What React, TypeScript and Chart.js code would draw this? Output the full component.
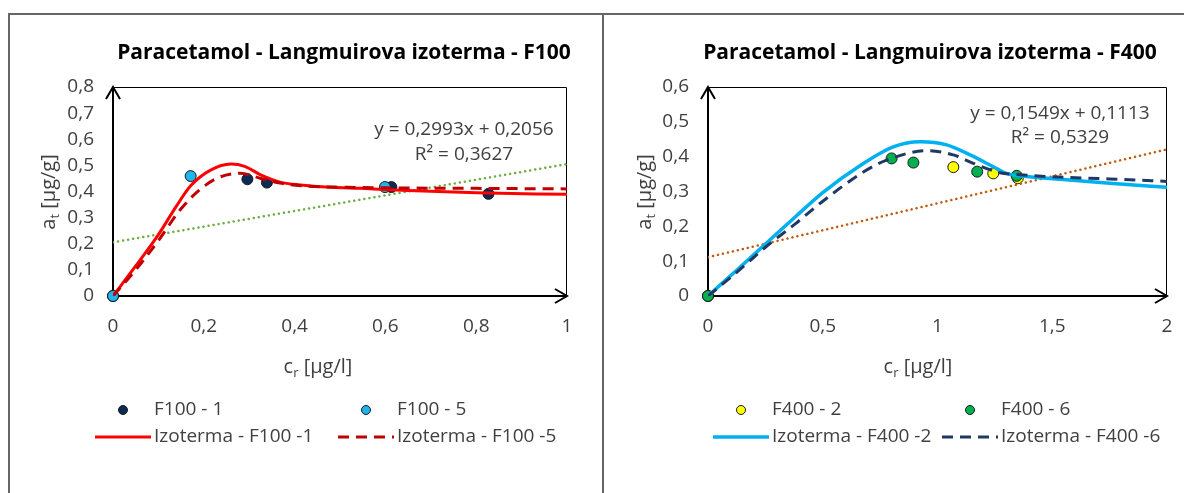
import React, { useEffect, useRef } from "react";
import { Chart, registerables } from "chart.js";

Chart.register(...registerables);

const FONT = '"Open Sans", "DejaVu Sans", sans-serif';
const TEXT = "#404040";

// ---------- F100 data ----------
const f100_1_x = [0, 0.296, 0.339, 0.613, 0.827];
const f100_1_y = [0, 0.447, 0.434, 0.417, 0.391];
const f100_5_x = [0, 0.171, 0.599];
const f100_5_y = [0, 0.459, 0.417];
const izo100_1_x = [0, 0.05, 0.1, 0.14, 0.171, 0.214, 0.26, 0.29, 0.324, 0.368, 0.412, 0.48, 0.544, 0.65, 0.8, 1.0];
const izo100_1_y = [0, 0.115, 0.235, 0.345, 0.422, 0.481, 0.505, 0.496, 0.465, 0.436, 0.425, 0.416, 0.412, 0.404, 0.395, 0.389];
const izo100_5_x = [0, 0.05, 0.1, 0.148, 0.19, 0.228, 0.28, 0.324, 0.368, 0.42, 0.515, 0.6, 0.8, 1.0];
const izo100_5_y = [0, 0.1, 0.212, 0.33, 0.405, 0.45, 0.47, 0.451, 0.432, 0.421, 0.416, 0.414, 0.412, 0.41];
const trend100_x = [0, 1];
const trend100_y = [0.2056, 0.5049];
const f100Equation = ["y = 0,2993x + 0,2056", "R² = 0,3627"];
const f100XTicks = { min: 0, max: 1, step: 0.2 };
const f100YTicks = { min: 0, max: 0.8, step: 0.1 };

// ---------- F400 data ----------
const f400_2_x = [0, 1.069, 1.243, 1.35];
const f400_2_y = [0, 0.37, 0.352, 0.338];
const f400_6_x = [0, 0.8, 0.895, 1.173, 1.345];
const f400_6_y = [0, 0.395, 0.383, 0.357, 0.345];
const izo400_2_x = [0, 0.125, 0.255, 0.38, 0.5, 0.662, 0.807, 0.924, 1.04, 1.142, 1.243, 1.3, 1.389, 1.534, 1.75, 2.0];
const izo400_2_y = [0, 0.074, 0.152, 0.227, 0.297, 0.374, 0.428, 0.443, 0.434, 0.405, 0.371, 0.352, 0.343, 0.335, 0.324, 0.312];
const izo400_6_x = [0, 0.125, 0.25, 0.38, 0.5, 0.677, 0.778, 0.953, 1.069, 1.156, 1.272, 1.345, 1.476, 1.75, 2.0];
const izo400_6_y = [0, 0.068, 0.14, 0.207, 0.272, 0.356, 0.39, 0.417, 0.405, 0.381, 0.354, 0.349, 0.343, 0.336, 0.329];
const trend400_x = [0, 2];
const trend400_y = [0.1113, 0.4211];
const f400Equation = ["y = 0,1549x + 0,1113", "R² = 0,5329"];
const f400XTicks = { min: 0, max: 2, step: 0.5 };
const f400YTicks = { min: 0, max: 0.6, step: 0.1 };

const zip = (xs: number[], ys: number[]) => xs.map((x, i) => ({ x, y: ys[i] }));
const fmt = (v: number) => String(Number(v.toFixed(3))).replace(".", ",");

type LegendItem = { label: string; kind: "point" | "line"; color: string; border?: string; dash?: number[]; width?: number };

type Layout = {
  width: number;
  height: number;
  padLeft: number;
  padRight: number;
  title: string;
  titleX: number;
  titleY: number;
  eq: string[];
  eqX: number;
  eqY: number[];
  xTitleX: number;
  xTitleY: number;
  yTitleX: number;
  yTitleY: number;
  legendCols: number[];
  legendRows: number[];
};

function drawSubText(ctx: CanvasRenderingContext2D, base: string, sub: string, rest: string, cx: number, y: number, size: number) {
  const big = `${size}px ${FONT}`;
  const small = `${Math.round(size * 0.65)}px ${FONT}`;
  ctx.font = big;
  const w1 = ctx.measureText(base).width;
  const w3 = ctx.measureText(rest).width;
  ctx.font = small;
  const w2 = ctx.measureText(sub).width;
  let x = cx - (w1 + w2 + w3) / 2;
  ctx.textAlign = "left";
  ctx.textBaseline = "alphabetic";
  ctx.font = big;
  ctx.fillText(base, x, y);
  x += w1;
  ctx.font = small;
  ctx.fillText(sub, x, y + size * 0.22);
  x += w2;
  ctx.font = big;
  ctx.fillText(rest, x, y);
}

function makePlugin(layout: Layout, legend: LegendItem[], xSub: [string, string, string], ySub: [string, string, string]) {
  return {
    id: "decor",
    beforeDatasetsDraw(chart: any) {
      const { ctx, chartArea: a } = chart;
      ctx.save();
      ctx.strokeStyle = "#000";
      ctx.lineWidth = 1;
      ctx.beginPath();
      ctx.moveTo(a.left, a.top + 0.5);
      ctx.lineTo(a.right - 0.5, a.top + 0.5);
      ctx.lineTo(a.right - 0.5, a.bottom);
      ctx.stroke();
      ctx.lineWidth = 2;
      ctx.beginPath();
      ctx.moveTo(a.left, a.bottom);
      ctx.lineTo(a.left, a.top);
      ctx.moveTo(a.left, a.bottom);
      ctx.lineTo(a.right, a.bottom);
      ctx.stroke();
      ctx.beginPath();
      ctx.moveTo(a.left - 7, a.top + 12);
      ctx.lineTo(a.left, a.top);
      ctx.lineTo(a.left + 7, a.top + 12);
      ctx.moveTo(a.right - 12, a.bottom - 7);
      ctx.lineTo(a.right, a.bottom);
      ctx.lineTo(a.right - 12, a.bottom + 7);
      ctx.stroke();
      ctx.restore();
    },
    afterDraw(chart: any) {
      const { ctx } = chart;
      ctx.save();
      ctx.fillStyle = "#000";
      ctx.font = `bold 21px ${FONT}`;
      ctx.textAlign = "center";
      ctx.textBaseline = "alphabetic";
      ctx.fillText(layout.title, layout.titleX, layout.titleY);
      ctx.fillStyle = TEXT;
      ctx.font = `19px ${FONT}`;
      layout.eq.forEach((t, i) => ctx.fillText(t, layout.eqX, layout.eqY[i]));
      drawSubText(ctx, xSub[0], xSub[1], xSub[2], layout.xTitleX, layout.xTitleY, 20);
      ctx.save();
      ctx.translate(layout.yTitleX, layout.yTitleY);
      ctx.rotate(-Math.PI / 2);
      drawSubText(ctx, ySub[0], ySub[1], ySub[2], 0, 7, 20);
      ctx.restore();
      legend.forEach((it, i) => {
        const col = layout.legendCols[i % 2];
        const row = layout.legendRows[Math.floor(i / 2)];
        ctx.save();
        if (it.kind === "point") {
          ctx.beginPath();
          ctx.arc(col + 28, row, 4.5, 0, Math.PI * 2);
          ctx.fillStyle = it.color;
          ctx.fill();
          ctx.lineWidth = 1;
          ctx.strokeStyle = it.border || "#1a1a1a";
          ctx.stroke();
        } else {
          ctx.beginPath();
          ctx.setLineDash(it.dash || []);
          ctx.lineWidth = it.width || 3;
          ctx.strokeStyle = it.color;
          ctx.moveTo(col, row);
          ctx.lineTo(col + 56, row);
          ctx.stroke();
        }
        ctx.restore();
        ctx.fillStyle = TEXT;
        ctx.font = `19px ${FONT}`;
        ctx.textAlign = "left";
        ctx.textBaseline = "middle";
        ctx.fillText(it.label, col + 59, row);
      });
      ctx.restore();
    },
  };
}

function baseOptions(layout: Layout, xt: { min: number; max: number; step: number }, yt: { min: number; max: number; step: number }) {
  return {
    responsive: false,
    animation: false as const,
    layout: { padding: { left: layout.padLeft, right: layout.padRight, top: 79, bottom: 157 } },
    plugins: { legend: { display: false }, tooltip: { enabled: false }, title: { display: false } },
    scales: {
      x: {
        type: "linear" as const,
        min: xt.min,
        max: xt.max,
        grid: { display: false, drawTicks: false },
        border: { display: false },
        ticks: { stepSize: xt.step, color: TEXT, font: { family: FONT, size: 19 }, padding: 19, callback: (v: any) => fmt(Number(v)) },
        afterFit: (s: any) => {
          s.height = 40;
          s.paddingLeft = 0;
          s.paddingRight = 0;
        },
      },
      y: {
        type: "linear" as const,
        min: yt.min,
        max: yt.max,
        grid: { display: false, drawTicks: false },
        border: { display: false },
        ticks: { stepSize: yt.step, color: TEXT, font: { family: FONT, size: 19 }, padding: 19, callback: (v: any) => fmt(Number(v)) },
        afterFit: (s: any) => {
          s.width = 60;
        },
      },
    },
  };
}

function pointDs(label: string, xs: number[], ys: number[], color: string, order: number) {
  return {
    label,
    data: zip(xs, ys),
    showLine: false,
    pointRadius: 5.5,
    pointBackgroundColor: color,
    pointBorderColor: "#1a1a1a",
    pointBorderWidth: 1,
    clip: false as const,
    order,
  };
}

function lineDs(label: string, xs: number[], ys: number[], color: string, width: number, dash: number[], order: number, smooth = true, cap: CanvasLineCap = "butt") {
  return {
    label,
    data: zip(xs, ys),
    showLine: true,
    pointRadius: 0,
    borderColor: color,
    borderWidth: width,
    borderDash: dash,
    borderCapStyle: cap,
    cubicInterpolationMode: smooth ? ("monotone" as const) : ("default" as const),
    tension: 0,
    order,
  };
}

const leftLayout: Layout = {
  width: 593,
  height: 485,
  padLeft: 43,
  padRight: 36,
  title: "Paracetamol - Langmuirova izoterma - F100",
  titleX: 334,
  titleY: 51,
  eq: f100Equation,
  eqX: 454,
  eqY: [127, 152],
  xTitleX: 308,
  xTitleY: 365,
  yTitleX: 38,
  yTitleY: 184,
  legendCols: [85, 328],
  legendRows: [402, 429],
};

const rightLayout: Layout = {
  width: 587,
  height: 485,
  padLeft: 43,
  padRight: 25,
  title: "Paracetamol - Langmuirova izoterma - F400",
  titleX: 325,
  titleY: 51,
  eq: f400Equation,
  eqX: 455,
  eqY: [111, 135],
  xTitleX: 313,
  xTitleY: 365,
  yTitleX: 39,
  yTitleY: 184,
  legendCols: [108, 337],
  legendRows: [402, 429],
};

function LeftChart() {
  const ref = useRef<HTMLCanvasElement>(null);
  useEffect(() => {
    const ds = [
      lineDs("Izoterma - F100 -5", izo100_5_x, izo100_5_y, "#c00000", 3, [11, 7], 1),
      lineDs("Izoterma - F100 -1", izo100_1_x, izo100_1_y, "#ff0000", 3, [], 2),
      lineDs("Trend", trend100_x, trend100_y, "#70ad47", 2.5, [0.1, 5], 3, false, "round"),
      pointDs("F100 - 5", f100_5_x, f100_5_y, "#1fb4ec", 4),
      pointDs("F100 - 1", f100_1_x, f100_1_y, "#0d2a54", 5),
    ];
    const legend: LegendItem[] = [
      { label: "F100 - 1", kind: "point", color: "#0d2a54" },
      { label: "F100 - 5", kind: "point", color: "#1fb4ec" },
      { label: "Izoterma - F100 -1", kind: "line", color: "#ff0000" },
      { label: "Izoterma - F100 -5", kind: "line", color: "#c00000", dash: [11, 7] },
    ];
    const chart = new Chart(ref.current!, {
      type: "scatter",
      data: { datasets: ds as any },
      options: baseOptions(leftLayout, f100XTicks, f100YTicks) as any,
      plugins: [makePlugin(leftLayout, legend, ["c", "r", " [µg/l]"], ["a", "t", " [µg/g]"])],
    });
    return () => chart.destroy();
  }, []);
  return <canvas ref={ref} width={leftLayout.width} height={leftLayout.height} style={{ position: "absolute", left: 2, top: 0, width: leftLayout.width, height: leftLayout.height }} />;
}

function RightChart() {
  const ref = useRef<HTMLCanvasElement>(null);
  useEffect(() => {
    const ds = [
      lineDs("Izoterma - F400 -6", izo400_6_x, izo400_6_y, "#1f3864", 3, [11, 7], 1),
      lineDs("Izoterma - F400 -2", izo400_2_x, izo400_2_y, "#00b0f0", 3.5, [], 2),
      lineDs("Trend", trend400_x, trend400_y, "#c55a11", 2.5, [0.1, 5], 3, false, "round"),
      pointDs("F400 - 6", f400_6_x, f400_6_y, "#00b050", 4),
      pointDs("F400 - 2", f400_2_x, f400_2_y, "#ffff00", 5),
    ];
    const legend: LegendItem[] = [
      { label: "F400 - 2", kind: "point", color: "#ffff00" },
      { label: "F400 - 6", kind: "point", color: "#00b050" },
      { label: "Izoterma - F400 -2", kind: "line", color: "#00b0f0", width: 3.5 },
      { label: "Izoterma - F400 -6", kind: "line", color: "#1f3864", dash: [11, 7] },
    ];
    const chart = new Chart(ref.current!, {
      type: "scatter",
      data: { datasets: ds as any },
      options: baseOptions(rightLayout, f400XTicks, f400YTicks) as any,
      plugins: [makePlugin(rightLayout, legend, ["c", "r", " [µg/l]"], ["a", "t", " [µg/g]"])],
    });
    return () => chart.destroy();
  }, []);
  return <canvas ref={ref} width={rightLayout.width} height={rightLayout.height} style={{ position: "absolute", left: 597, top: 0, width: rightLayout.width, height: rightLayout.height }} />;
}

export default function App() {
  const line = "#666666";
  return (
    <div style={{ position: "relative", width: 1184, height: 485, overflow: "hidden", background: "#fff" }}>
      <LeftChart />
      <RightChart />
      <div style={{ position: "absolute", left: 0, top: 5, width: 1184, height: 2, background: line }} />
      <div style={{ position: "absolute", left: 0, top: 5, width: 2, height: 480, background: line }} />
      <div style={{ position: "absolute", left: 594, top: 5, width: 2, height: 480, background: line }} />
    </div>
  );
}
